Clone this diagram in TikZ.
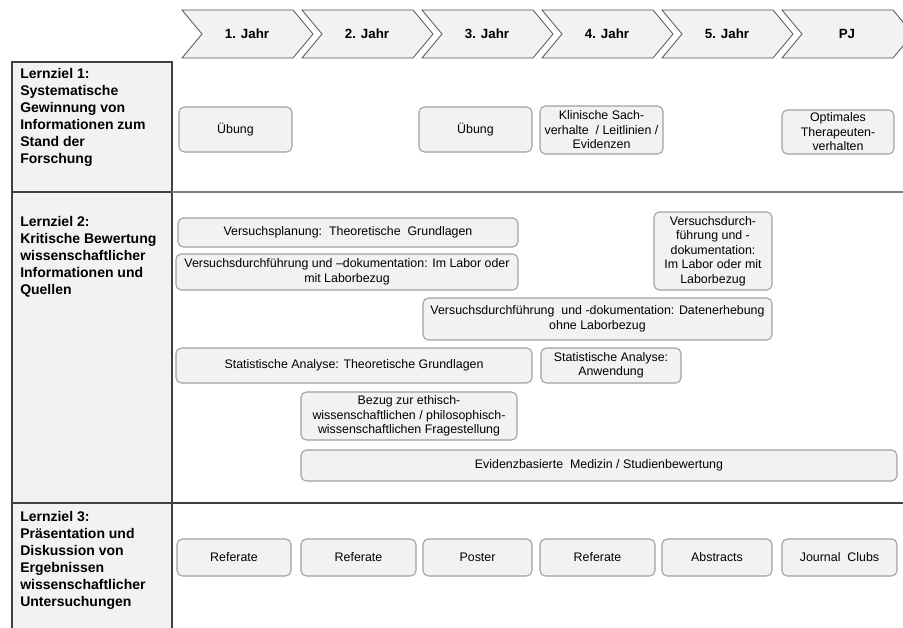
\documentclass[tikz,border=0pt]{standalone}
\usepackage{fontspec}
\setmainfont{Liberation Sans}
\definecolor{boxfill}{HTML}{F2F2F2}
\definecolor{boxline}{HTML}{A0A0A0}
\definecolor{gridline}{HTML}{404040}
\def\pxu{0.75pt}
\tikzset{
  box/.style={draw=boxline, fill=boxfill, rounded corners=4pt, line width=0.8pt,
    align=center, inner sep=1pt, font=\fontsize{9.3}{10.9}\selectfont},
  sz/.style 2 args={minimum width=#1*\pxu, minimum height=#2*\pxu},
  chev/.style={draw=gridline!90, fill=boxfill, line width=0.6pt},
  jahrlabel/.style={font=\fontsize{10}{12}\selectfont\bfseries},
  zielbox/.style={draw=gridline, fill=boxfill, line width=1pt},
  zieltext/.style={anchor=north west, inner sep=0pt, align=left,
    font=\fontsize{10.5}{12.75}\selectfont\bfseries},
}
\begin{document}
\begin{tikzpicture}[x=\pxu, y=-\pxu]
    \useasboundingbox (0,0) rectangle (903,628);
    % Jahre
    \foreach \i/\lab in {0/1. Jahr,1/2. Jahr,2/3. Jahr,3/4. Jahr,4/5. Jahr,5/PJ} {
        \draw[chev] ({182+120*\i},10) -- ++(111,0) -- ++(20,24) -- ++(-20,24)
            -- ++(-111,0) -- ++(20,-24) -- cycle;
        \node[jahrlabel] (jahr\i) at ({247+120*\i},34) {\lab};
    }
    % Lernziele
    \draw[zielbox] (12,62) rectangle (172,192);
    \draw[zielbox] (12,192) rectangle (172,503);
    \draw[zielbox] (12,503) rectangle (172,640);
    \draw[gray, line width=1.5pt] (172,192) -- (903,192);
    \draw[gridline, line width=1pt] (172,503) -- (903,503);
    \node[zieltext] (ziel1) at (20,68) {Lernziel 1:\\Systematische\\Gewinnung von\\Informationen zum\\Stand der\\Forschung};
    \node[zieltext] (ziel2) at (20,216) {Lernziel 2:\\Kritische Bewertung\\wissenschaftlicher\\Informationen und\\Quellen};
    \node[zieltext] (ziel3) at (20,511) {Lernziel 3:\\Präsentation und\\Diskussion von\\Ergebnissen\\wissenschaftlicher\\Untersuchungen};
    % Lernziel 1
    \node[box, sz={113}{45}] (uebung1) at (235.5,129.5) {Übung};
    \node[box, sz={113}{45}] (uebung3) at (475.5,129.5) {Übung};
    \node[box, sz={123}{48}] (klinik) at (601.5,130) {Klinische Sach-\\verhalte\ \ / Leitlinien /\\Evidenzen};
    \node[box, sz={112}{44}] (therapeut) at (838,132) {Optimales\\Therapeuten-\\verhalten};
    % Lernziel 2
    \node[box, sz={340}{29}] (planung) at (348,232.5) {Versuchsplanung:\ \ Theoretische\ \ Grundlagen};
    \node[box, sz={342}{36}] (durchlabor) at (347,272) {Versuchsdurchführung und –dokumentation: Im Labor oder\\mit Laborbezug};
    \node[box, sz={118}{78}] (durchlabor5) at (713,251) {Versuchsdurch-\\führung und -\\dokumentation:\\Im Labor oder mit\\Laborbezug};
    \node[box, sz={349}{42}] (durchdaten) at (597.5,319) {Versuchsdurchführung\ \ und -dokumentation: Datenerhebung\\ohne Laborbezug};
    \node[box, sz={356}{35}] (statgrund) at (354,365.5) {Statistische Analyse: Theoretische Grundlagen};
    \node[box, sz={140}{35}] (statanw) at (611,365.5) {Statistische Analyse:\\Anwendung};
    \node[box, sz={216}{48}] (ethik) at (409,416) {Bezug zur ethisch-\\wissenschaftlichen / philosophisch-\\wissenschaftlichen Fragestellung};
    \node[box, sz={596}{31}] (ebm) at (599,465.5) {Evidenzbasierte\ \ Medizin / Studienbewertung};
    % Lernziel 3
    \node[box, sz={114}{37}] (referat1) at (234,557.5) {Referate};
    \node[box, sz={115}{37}] (referat2) at (358.5,557.5) {Referate};
    \node[box, sz={109}{37}] (poster) at (477.5,557.5) {Poster};
    \node[box, sz={115}{37}] (referat4) at (597.5,557.5) {Referate};
    \node[box, sz={110}{37}] (abstracts) at (717,557.5) {Abstracts};
    \node[box, sz={115}{37}] (journal) at (839.5,557.5) {Journal\ \ Clubs};
\end{tikzpicture}
\end{document}
